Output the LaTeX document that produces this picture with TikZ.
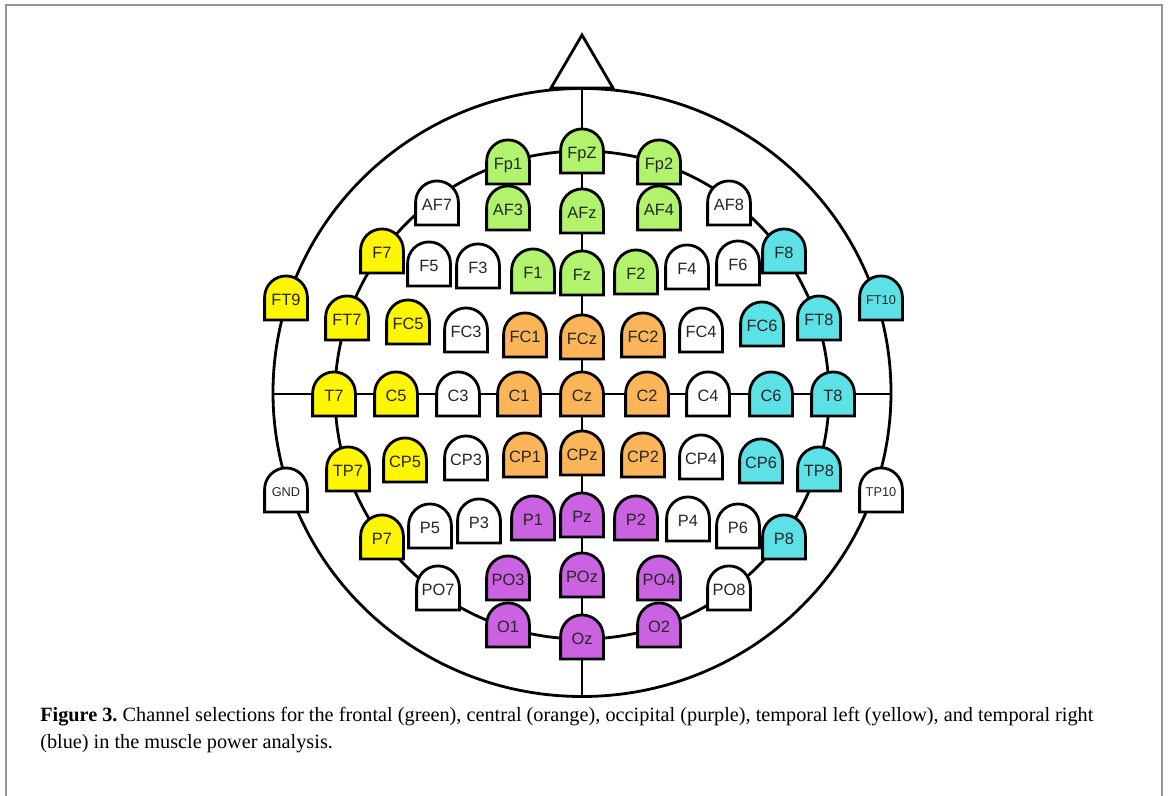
\documentclass[tikz,border=0pt]{standalone}
\usepackage{fontspec}
\setmainfont{Liberation Serif}
\newfontfamily\elfont{Liberation Sans}
\usetikzlibrary{backgrounds}
\frenchspacing
\makeatletter
\pgfdeclareshape{tombstone}{
  \inheritsavedanchors[from=rectangle]
  \inheritanchorborder[from=rectangle]
  \inheritanchor[from=rectangle]{center}
  \inheritanchor[from=rectangle]{north}
  \inheritanchor[from=rectangle]{south}
  \inheritanchor[from=rectangle]{east}
  \inheritanchor[from=rectangle]{west}
  \inheritanchor[from=rectangle]{north east}
  \inheritanchor[from=rectangle]{north west}
  \inheritanchor[from=rectangle]{south east}
  \inheritanchor[from=rectangle]{south west}
  \inheritanchor[from=rectangle]{mid}
  \inheritanchor[from=rectangle]{base}
  \backgroundpath{
    \southwest \edef\ts@xa{\the\pgf@x}\edef\ts@ya{\the\pgf@y}
    \northeast \edef\ts@xb{\the\pgf@x}\edef\ts@yb{\the\pgf@y}
    \pgfmathsetmacro\ts@r{(\ts@xb-\ts@xa)/2}
    \pgfmathsetmacro\ts@yc{\ts@yb-\ts@r}
    \pgfpathmoveto{\pgfpoint{\ts@xa}{\ts@ya}}
    \pgfpathlineto{\pgfpoint{\ts@xa}{\ts@yc pt}}
    \pgfpatharc{180}{0}{\ts@r pt}
    \pgfpathlineto{\pgfpoint{\ts@xb}{\ts@ya}}
    \pgfpathclose
  }
}
\makeatother
\definecolor{cgreen}{RGB}{178,243,110}
\definecolor{cyellow}{RGB}{255,246,0}
\definecolor{corange}{RGB}{252,181,88}
\definecolor{ccyan}{RGB}{92,226,230}
\definecolor{cpurple}{RGB}{203,98,226}
\definecolor{framegray}{RGB}{150,150,150}
\tikzset{
  el/.style={shape=tombstone, draw=black, line width=2.1pt, minimum width=30pt,
    minimum height=31pt, inner sep=0pt, text height=11.5pt, text depth=0pt,
    font=\elfont\fontsize{12.3}{12.3}\selectfont, text=black!85},
  small/.style={font=\elfont\fontsize{9.6}{9.6}\selectfont, text height=10pt},
  wire/.style={line width=2.1pt, draw=black},
  capline/.style={anchor=base west, inner sep=0pt, font=\fontsize{15.2}{18}\selectfont}
}
\newcommand\elec[4][]{\node[el,fill=#4,#1] (#2) at (#3) {#2};}
\begin{document}
\begin{tikzpicture}[x=0.75pt,y=-0.75pt]
\useasboundingbox (0,0) rectangle (1168,796);
% frame
\draw[framegray, line width=1.5pt] (6,796) -- (6,5) -- (1162,5) -- (1162,796);
% electrodes
\elec{FpZ}{582,151}{cgreen}
\elec{Fp1}{508,162}{cgreen}
\elec{Fp2}{659,162}{cgreen}
\elec{AF7}{437,203}{white}
\elec{AF3}{508,208}{cgreen}
\elec{AFz}{582,211}{cgreen}
\elec{AF4}{659,208}{cgreen}
\elec{AF8}{729,203}{white}
\elec{F7}{382,251}{cyellow}
\elec{F5}{429,264}{white}
\elec{F3}{478,266}{white}
\elec{F1}{533,271}{cgreen}
\elec{Fz}{582,273}{cgreen}
\elec{F2}{636,272}{cgreen}
\elec{F4}{687,267}{white}
\elec{F6}{738,263}{white}
\elec{F8}{784,251}{ccyan}
\elec{FT9}{286,298}{cyellow}
\elec{FT7}{347,318}{cyellow}
\elec{FC5}{408,322}{cyellow}
\elec{FC3}{466,330}{white}
\elec{FC1}{525,335}{corange}
\elec{FCz}{582,337}{corange}
\elec{FC2}{643,335}{corange}
\elec{FC4}{701,330}{white}
\elec{FC6}{762,324}{ccyan}
\elec{FT8}{819,318}{ccyan}
\elec[small]{FT10}{881,298}{ccyan}
\elec{T7}{334,394}{cyellow}
\elec{C5}{396,394}{cyellow}
\elec{C3}{458,394}{white}
\elec{C1}{519,394}{corange}
\elec{Cz}{582,394}{corange}
\elec{C2}{647,394}{corange}
\elec{C4}{708,394}{white}
\elec{C6}{771,394}{ccyan}
\elec{T8}{833,394}{ccyan}
\elec[small]{GND}{286,490}{white}
\elec{TP7}{348,469}{cyellow}
\elec{CP5}{405,460}{cyellow}
\elec{CP3}{466,458}{white}
\elec{CP1}{525,455}{corange}
\elec{CPz}{582,453}{corange}
\elec{CP2}{643,455}{corange}
\elec{CP4}{701,457}{white}
\elec{CP6}{761,461}{ccyan}
\elec{TP8}{819,469}{ccyan}
\elec[small]{TP10}{881,490}{white}
\elec{P7}{382,537}{cyellow}
\elec{P5}{430,526}{white}
\elec{P3}{479,521}{white}
\elec{P1}{533,518}{cpurple}
\elec{Pz}{582,515}{cpurple}
\elec{P2}{636,518}{cpurple}
\elec{P4}{688,519}{white}
\elec{P6}{738,526}{white}
\elec{P8}{784,537}{ccyan}
\elec{PO7}{438,588}{white}
\elec{PO3}{508,578}{cpurple}
\elec{POz}{582,575}{cpurple}
\elec{PO4}{659,578}{cpurple}
\elec{PO8}{729,588}{white}
\elec{O1}{508,625}{cpurple}
\elec{Oz}{582,637}{cpurple}
\elec{O2}{659,625}{cpurple}
% end points of the midlines
\coordinate (mtop) at (582,88);
\coordinate (mbot) at (582,697);
\coordinate (mleft) at (273,394);
\coordinate (mright) at (891,394);
\begin{pgfonlayer}{background}
  \draw[wire] (582,392.5) ellipse [x radius=309, y radius=304];
  \draw[wire] (582,395) ellipse [x radius=247, y radius=244];
  \draw[wire] (mtop) -- (mbot);
  \draw[wire] (mleft) -- (mright);
\end{pgfonlayer}
% nose
\draw[wire, fill=white, line join=miter] (551,88) -- (582,35) -- (613,88) -- cycle;
% caption
\node[capline] (cap1) at (40,721) {\textbf{Figure 3.} Channel selections for the frontal (green), central (orange), occipital (purple), temporal left (yellow), and temporal right};
\node[capline] (cap2) at (40,748) {(blue) in the muscle power analysis.};
\end{tikzpicture}
\end{document}
